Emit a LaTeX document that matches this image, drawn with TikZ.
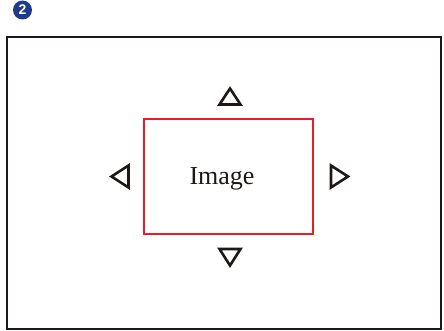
\documentclass[tikz,border=0pt]{standalone}
\usepackage{fontspec}
\setmainfont{Liberation Serif}
\newfontfamily\badgefont{Liberation Sans}
\definecolor{badgeblue}{RGB}{30,58,138}
\definecolor{imgred}{RGB}{230,30,40}
\definecolor{ink}{RGB}{30,25,22}
\tikzset{
  tri/.style={draw=ink,line width=2.6pt,line join=miter},
  frame/.style={draw=ink,line width=2.4pt},
}
\begin{document}
\begin{tikzpicture}[x=1pt,y=1pt]
\useasboundingbox (0,0) rectangle (444,330);
% badge
\node[circle,fill=badgeblue,inner sep=0pt,minimum size=19pt,text=white,font=\badgefont\bfseries\fontsize{14}{14}\selectfont] (badge) at (22.5,320) {2};
% outer frame
\draw[frame] (7,1.2) rectangle (441,293);
% image box
\node[draw=imgred,line width=1.3pt,minimum width=169pt,minimum height=115pt,inner sep=0pt] (img) at (228.5,153.5) {};
\node[font=\fontsize{26}{28}\selectfont,text=ink,inner sep=0pt] (imgtext) at (222,151.5) {Image};
% triangles
\draw[tri] (230,241.5) -- (240.5,225.5) -- (219.5,225.5) -- cycle;
\draw[tri] (230,64.5) -- (240.5,81) -- (219.5,81) -- cycle;
\draw[tri] (111.5,153.5) -- (128.5,164.5) -- (128.5,142.5) -- cycle;
\draw[tri] (348,153.5) -- (331,164.5) -- (331,142.5) -- cycle;
\end{tikzpicture}
\end{document}
